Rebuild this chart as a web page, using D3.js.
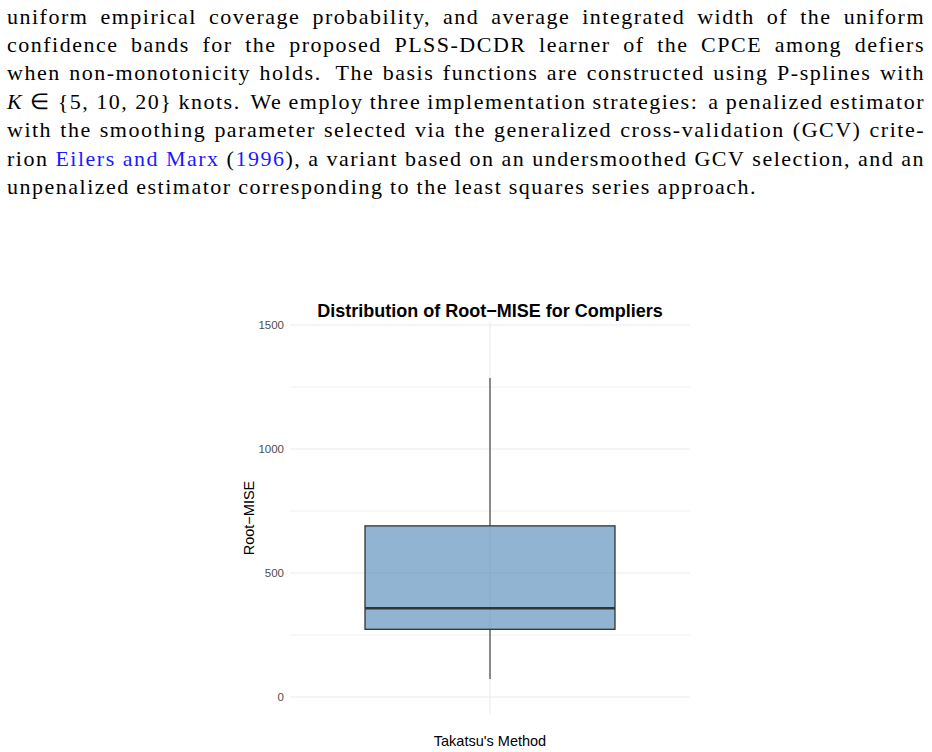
<!DOCTYPE html>
<html><head><meta charset="utf-8">
<script src="https://cdn.jsdelivr.net/npm/d3@7"></script>
<style>html,body{margin:0;padding:0;background:#fff;} svg{display:block}</style>
</head><body>
<svg id="c" width="932" height="752"></svg>
<script>
// ---- chart data ----
const categories = ["Takatsu's Method"];
const lowerWhisker = [73];
const q1 = [273];
const medians = [358];
const q3 = [690];
const upperWhisker = [1286];
const majorTicks = [0, 500, 1000, 1500];
const minorTicks = [250, 750, 1250];
const yDomain = [-68.5, 1512];
const chartTitle = "Distribution of Root\u2212MISE for Compliers";
const yTitle = "Root\u2212MISE";
const xTitle = "Takatsu's Method";

// ---- paragraph text (each line: list of words; a word may be a list of styled segments) ----
const B = t => ({t, blue: true});
const I = t => ({t, it: true});
const paragraph = [
  "uniform empirical coverage probability, and average integrated width of the uniform".split(" "),
  "confidence bands for the proposed PLSS-DCDR learner of the CPCE among defiers".split(" "),
  "when non-monotonicity holds. The basis functions are constructed using P-splines with".split(" "),
  [[I("K"), {t: " \u2208 {5, 10, 20}"}]].concat("knots. We employ three implementation strategies: a penalized estimator".split(" ")),
  "with the smoothing parameter selected via the generalized cross-validation (GCV) crite-".split(" "),
  ["rion", [B("Eilers")], [B("and")], [B("Marx")], [{t:"("}, B("1996"), {t:"),"}]].concat("a variant based on an undersmoothed GCV selection, and an".split(" ")),
  "unpenalized estimator corresponding to the least squares series approach.".split(" ")
];

const svg = d3.select("#c");

// ---- paragraph rendering (justified) ----
const textLeft = 7, textRight = 925, baseline0 = 23.5, lineStep = 28.4;
const pFont = 22;
const pg = svg.append("g")
  .attr("font-family", "'Liberation Serif', 'Times New Roman', serif")
  .attr("font-size", pFont).attr("fill", "#000");

function drawWord(g, w) {
  const segs = typeof w === "string" ? [{t: w}] : w;
  const t = g.append("text").style("white-space", "pre");
  segs.forEach(s => {
    t.append("tspan").text(s.t)
      .attr("fill", s.blue ? "#1a1aff" : "#000")
      .attr("font-style", s.it ? "italic" : null);
  });
  return t;
}
// letter spacing: calibrate so the last (unjustified) line has its natural width
let letterSp = 0;
{
  const last = paragraph[paragraph.length - 1];
  const tmp = pg.append("g");
  let sum = 0, chars = 0;
  last.forEach(w => {
    const t = drawWord(tmp, w);
    sum += t.node().getComputedTextLength();
    chars += t.text().length;
  });
  tmp.remove();
  const target = 750 - (last.length - 1) * 6.5;
  letterSp = Math.max(0, Math.min(1.6, (target - sum) / chars));
}
pg.attr("letter-spacing", letterSp);

paragraph.forEach((line, li) => {
  const g = pg.append("g");
  const nodes = line.map(w => drawWord(g, w));
  const widths = nodes.map(n => n.node().getComputedTextLength());
  const isLast = li === paragraph.length - 1;
  const weights = line.slice(0, -1).map(w => {
    const s = typeof w === "string" ? w : w.map(x => x.t).join("");
    return /[.:]$/.test(s) && s.length > 2 ? 1.6 : 1;
  });
  const total = d3.sum(widths);
  const gapUnit = isLast ? 6.5 : (textRight - textLeft - total) / d3.sum(weights);
  let xp = textLeft;
  nodes.forEach((n, i) => {
    n.attr("x", xp).attr("y", baseline0 + li * lineStep);
    xp += widths[i] + (i < weights.length ? gapUnit * (isLast ? 1 : weights[i]) : 0);
  });
});

// ---- chart ----
const panel = {left: 290, right: 690, top: 322, bottom: 714};
const y = d3.scaleLinear().domain(yDomain).range([panel.bottom, panel.top]);
const x = d3.scaleLinear().domain([0.4, categories.length + 0.6]).range([panel.left, panel.right]);
const boxHalf = 0.375;

const grid = svg.append("g");
grid.selectAll("line.minor").data(minorTicks).join("line").attr("class", "minor")
  .attr("x1", panel.left).attr("x2", panel.right)
  .attr("y1", d => y(d)).attr("y2", d => y(d))
  .attr("stroke", "#ebebeb").attr("stroke-width", 0.8);
grid.selectAll("line.major").data(majorTicks).join("line").attr("class", "major")
  .attr("x1", panel.left).attr("x2", panel.right)
  .attr("y1", d => y(d)).attr("y2", d => y(d))
  .attr("stroke", "#ebebeb").attr("stroke-width", 1.1);
grid.selectAll("line.vx").data(categories).join("line").attr("class", "vx")
  .attr("x1", (d, i) => x(i + 1)).attr("x2", (d, i) => x(i + 1))
  .attr("y1", panel.top).attr("y2", panel.bottom)
  .attr("stroke", "#ebebeb").attr("stroke-width", 1.1);

// y axis labels
const yAxis = svg.append("g").attr("transform", `translate(${panel.left},0)`)
  .call(d3.axisLeft(y).tickValues(majorTicks).tickSize(0).tickPadding(6).tickFormat(d3.format("d")));
yAxis.select(".domain").remove();
yAxis.selectAll("text").attr("font-family", "'Liberation Sans', Arial, sans-serif")
  .attr("font-size", 11.5).attr("fill", "#4d4d4d");

// boxes
const boxes = svg.append("g").selectAll("g").data(categories).join("g");
boxes.append("line")
  .attr("x1", (d, i) => x(i + 1)).attr("x2", (d, i) => x(i + 1))
  .attr("y1", (d, i) => y(q3[i])).attr("y2", (d, i) => y(upperWhisker[i]))
  .attr("stroke", "#333333").attr("stroke-width", 1.1);
boxes.append("line")
  .attr("x1", (d, i) => x(i + 1)).attr("x2", (d, i) => x(i + 1))
  .attr("y1", (d, i) => y(q1[i])).attr("y2", (d, i) => y(lowerWhisker[i]))
  .attr("stroke", "#333333").attr("stroke-width", 1.1);
boxes.append("rect")
  .attr("x", (d, i) => x(i + 1 - boxHalf))
  .attr("width", (d, i) => x(i + 1 + boxHalf) - x(i + 1 - boxHalf))
  .attr("y", (d, i) => y(q3[i]))
  .attr("height", (d, i) => y(q1[i]) - y(q3[i]))
  .attr("fill", "steelblue").attr("fill-opacity", 0.6)
  .attr("stroke", "#333333").attr("stroke-width", 1.3);
boxes.append("line")
  .attr("x1", (d, i) => x(i + 1 - boxHalf)).attr("x2", (d, i) => x(i + 1 + boxHalf))
  .attr("y1", (d, i) => y(medians[i])).attr("y2", (d, i) => y(medians[i]))
  .attr("stroke", "#333333").attr("stroke-width", 2.4);

// titles
const sans = "'Liberation Sans', Arial, Helvetica, sans-serif";
svg.append("text").text(chartTitle)
  .attr("x", (panel.left + panel.right) / 2).attr("y", 317)
  .attr("text-anchor", "middle").attr("font-family", sans)
  .attr("font-weight", "bold").attr("font-size", 18).attr("fill", "#000");
svg.append("text").text(xTitle)
  .attr("x", (panel.left + panel.right) / 2).attr("y", 746)
  .attr("text-anchor", "middle").attr("font-family", sans)
  .attr("font-size", 14.5).attr("fill", "#000");
svg.append("text").text(yTitle)
  .attr("transform", `translate(253.5,${(panel.top + panel.bottom) / 2}) rotate(-90)`)
  .attr("text-anchor", "middle").attr("font-family", sans)
  .attr("font-size", 14.5).attr("fill", "#000");
</script>
</body></html>
